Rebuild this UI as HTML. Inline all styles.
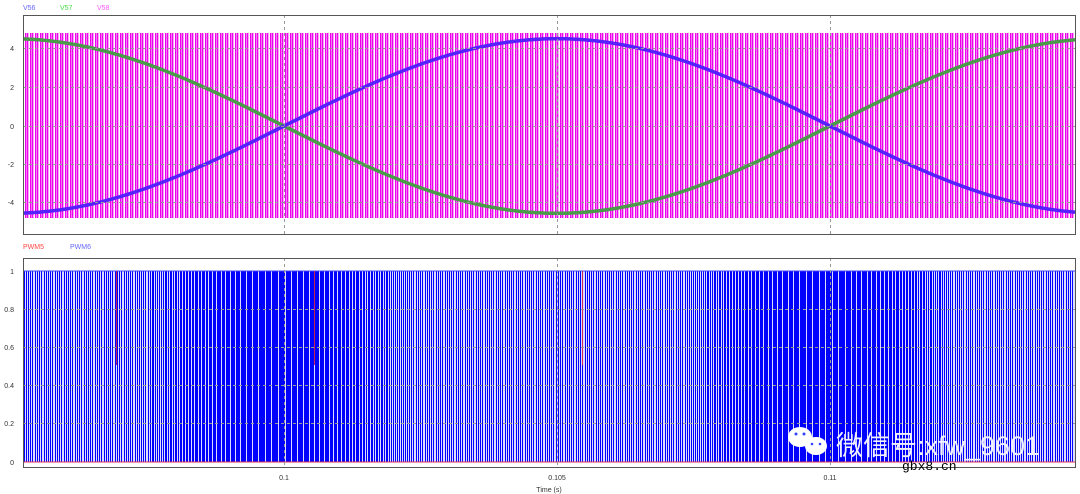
<!DOCTYPE html>
<html><head><meta charset="utf-8"><style>
html,body{margin:0;padding:0;background:#fff;width:1080px;height:494px;overflow:hidden}
svg{display:block}
text{font-family:"Liberation Sans",sans-serif}
</style></head><body>
<svg id="s" width="1080" height="494" xmlns="http://www.w3.org/2000/svg">
<rect width="1080" height="494" fill="#fff"/>
<g id="pink"></g>
<g id="sines"></g>
<g id="pwm"></g>
<g stroke="#999" stroke-dasharray="3,3" stroke-width="1">
<line x1="284.5" y1="15" x2="284.5" y2="234"/><line x1="557.5" y1="15" x2="557.5" y2="234"/><line x1="830.5" y1="15" x2="830.5" y2="234"/>
<line x1="284.5" y1="258" x2="284.5" y2="467"/><line x1="557.5" y1="258" x2="557.5" y2="467"/><line x1="830.5" y1="258" x2="830.5" y2="467"/>
<line x1="23" y1="48.5" x2="1075" y2="48.5"/><line x1="23" y1="87.5" x2="1075" y2="87.5"/><line x1="23" y1="126.5" x2="1075" y2="126.5"/><line x1="23" y1="164.5" x2="1075" y2="164.5"/><line x1="23" y1="202.5" x2="1075" y2="202.5"/>
<line x1="23" y1="309.5" x2="1075" y2="309.5"/><line x1="23" y1="347.5" x2="1075" y2="347.5"/><line x1="23" y1="385.5" x2="1075" y2="385.5"/><line x1="23" y1="423.5" x2="1075" y2="423.5"/>
</g>
<rect x="23.5" y="15.5" width="1052" height="219" fill="none" stroke="#555"/>
<rect x="23.5" y="258.5" width="1052" height="209" fill="none" stroke="#555"/>
<g font-size="7" fill="#333" text-anchor="end">
<text x="14" y="51">4</text><text x="14" y="90">2</text><text x="14" y="129">0</text><text x="14" y="167">-2</text><text x="14" y="205">-4</text>
<text x="14" y="274">1</text><text x="14" y="312">0.8</text><text x="14" y="350">0.6</text><text x="14" y="388">0.4</text><text x="14" y="426">0.2</text><text x="14" y="465">0</text>
</g>
<g font-size="7" fill="#333" text-anchor="middle">
<text x="284" y="480">0.1</text><text x="557" y="480">0.105</text><text x="830" y="480">0.11</text>
<text x="549" y="492">Time (s)</text>
</g>
<g font-size="7">
<text x="23" y="10" fill="#6666ff">V56</text><text x="60" y="10" fill="#44dd44">V57</text><text x="97" y="10" fill="#ff55ff">V58</text>
<text x="23" y="249" fill="#ff4444">PWM5</text><text x="70" y="249" fill="#6666ff">PWM6</text>
</g>
<g fill="#fff">
<ellipse cx="800" cy="437" rx="12" ry="10"/><ellipse cx="816" cy="446" rx="11" ry="9"/>
</g>
<g fill="#3344ff"><circle cx="796" cy="434" r="1.5"/><circle cx="804" cy="434" r="1.5"/><circle cx="812" cy="444" r="1.3"/><circle cx="820" cy="444" r="1.3"/></g>
<text x="836" y="455" font-size="27" fill="#f0f0ff" style='font-family:"Liberation Sans","Noto Sans CJK SC",sans-serif'>微信号:xfw_9601</text>
<text x="902" y="470" font-size="13" fill="#000" style='font-family:"Liberation Mono",monospace'>gbx8.cn</text>
</svg>
<script>
var NS="http://www.w3.org/2000/svg";
function L(g,x1,y1,x2,y2,c,w){var l=document.createElementNS(NS,"line");l.setAttribute("x1",x1);l.setAttribute("y1",y1);l.setAttribute("x2",x2);l.setAttribute("y2",y2);l.setAttribute("stroke",c);l.setAttribute("stroke-width",w);g.appendChild(l);}
var pk=document.getElementById("pink");
var bg=document.createElementNS(NS,"rect");bg.setAttribute("x",24);bg.setAttribute("y",33);bg.setAttribute("width",1051);bg.setAttribute("height",185);bg.setAttribute("fill","#f7a6f7");pk.appendChild(bg);
for(var x=24;x<1075;x++){var m=x%5;var c=(m==0||m==2)?"#ee00ee":(m==4?"#fff":(m==1?"#f47af4":null));if(c)L(pk,x+0.5,33,x+0.5,218,c,1);}
var sg=document.getElementById("sines");var pg="",pb="";
for(var x=23;x<=1075;x++){var c=Math.cos(2*Math.PI*(x-557)/1092);var yg=126+4.5*19.4*c;var yb=126-4.5*19.4*c;pg+=(x==23?"M":"L")+x+","+yg.toFixed(1);pb+=(x==23?"M":"L")+x+","+yb.toFixed(1);}
var p1=document.createElementNS(NS,"path");p1.setAttribute("d",pg);p1.setAttribute("stroke","#4a9a4a");p1.setAttribute("stroke-width",3.5);p1.setAttribute("fill","none");sg.appendChild(p1);
var p2=document.createElementNS(NS,"path");p2.setAttribute("d",pb);p2.setAttribute("stroke","#5522ff");p2.setAttribute("stroke-width",3.5);p2.setAttribute("fill","none");sg.appendChild(p2);
var pw=document.getElementById("pwm");
var b2=document.createElementNS(NS,"rect");b2.setAttribute("x",24);b2.setAttribute("y",271);b2.setAttribute("width",1051);b2.setAttribute("height",191);b2.setAttribute("fill","#0000ff");pw.appendChild(b2);
var acc=0;
for(var x=24;x<1075;x++){var d=0.45+0.4*Math.max(0,Math.cos(2*Math.PI*(x-275)/546));acc+=1-d;if(acc>=1){acc-=1;L(pw,x+0.5,271,x+0.5,462,"#dcdcff",1);}}
L(pw,24,271,1075,271,"#4444ff",1);L(pw,24,462,1075,462,"#dd3355",1);
[116,314,582].forEach(function(x){L(pw,x+0.5,271,x+0.5,365,"#cc2255",1)});
</script>
</body></html>
